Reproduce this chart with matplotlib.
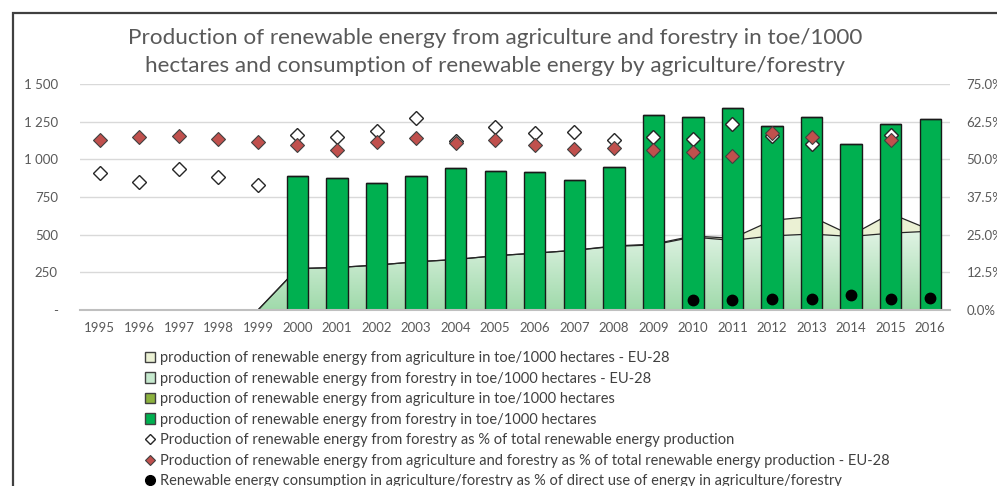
import numpy as np
import matplotlib
matplotlib.use("Agg")
import matplotlib.pyplot as plt
from matplotlib.patches import Rectangle, Patch
from matplotlib.lines import Line2D
from matplotlib.colors import LinearSegmentedColormap
from matplotlib.ticker import FuncFormatter, FixedLocator

plt.rcParams['font.family'] = ['Lato', 'DejaVu Sans']

years = [str(y) for y in range(1995, 2017)]
nan = np.nan

# toe/1000 hectares (left axis)
agri_eu28 = [0, 0, 0, 0, 0, 0, 0, 0, 0, 0, 0, 0, 0, 3, 5, 7, 14, 103, 116, 8, 130, 9]
forest_eu28 = [0, 0, 0, 0, 0, 275, 282, 298, 320, 335, 360, 377, 396, 422, 432, 484, 462, 492, 504, 488, 510, 523]
agri_bars = [nan, nan, nan, nan, nan, 0, 0, 0, 0, 0, 0, 0, 0, 0, 0, 0, 0, 0, 0, 0, 0, 0]
forest_bars = [nan, nan, nan, nan, nan, 889, 874, 841, 889, 942, 920, 914, 861, 951, 1296, 1279, 1340, 1224, 1283, 1101, 1235, 1270]

# percentages (right axis)
forest_pct = [45.6, 42.6, 46.7, 44.0, 41.5, 58.0, 57.3, 59.5, 63.6, 56.2, 60.6, 58.7, 59.1, 56.4, 57.5, 56.9, 61.6, 57.8, 55.1, nan, 58.1, nan]
agrifor_pct_eu28 = [56.4, 57.5, 57.6, 56.6, 55.9, 54.6, 53.1, 55.8, 57.2, 55.5, 56.3, 54.8, 53.5, 53.7, 53.1, 52.4, 51.0, 58.8, 57.3, nan, 56.3, nan]
consumption_pct = [nan, nan, nan, nan, nan, nan, nan, nan, nan, nan, nan, nan, nan, nan, nan, 3.3, 3.3, 3.75, 3.75, 5.0, 3.6, 3.9]

labels = [
    "production of renewable energy from agriculture in toe/1000 hectares - EU-28",
    "production of renewable energy from forestry in toe/1000 hectares - EU-28",
    "production of renewable energy from agriculture in toe/1000 hectares",
    "production of renewable energy from forestry in toe/1000 hectares",
    "Production of renewable energy from forestry as % of total renewable energy production",
    "Production of renewable energy from agriculture and forestry as % of total renewable energy production - EU-28",
    "Renewable energy consumption in agriculture/forestry as % of direct use of energy in agriculture/forestry",
]
title = ("Production of renewable energy from agriculture and forestry in toe/1000\n"
         "hectares and consumption of renewable energy by agriculture/forestry")

W, H = 997, 486
fig = plt.figure(figsize=(W / 100, H / 100), dpi=100)
fig.patch.set_facecolor('white')

ax = fig.add_axes([80 / W, 1 - 310 / H, (950 - 80) / W, (310 - 84) / H])
x = np.arange(len(years))

TXT = '#595959'
AGRI_EU = '#EBF1D4'
FOREST_EU_TOP = '#E0F3E4'
FOREST_EU_BOT = '#A0DAAB'
AGRI_BAR = '#8CB23F'
FOREST_BAR = '#00B050'
RED = '#C0504D'

# areas
fe = np.array(forest_eu28, float)
ae = np.array(agri_eu28, float)
ax.fill_between(x, fe, fe + ae, facecolor=AGRI_EU, edgecolor='none', zorder=1)
poly = ax.fill_between(x, 0, fe, facecolor='none', edgecolor='none', zorder=1)
cmap = LinearSegmentedColormap.from_list('g', [FOREST_EU_BOT, FOREST_EU_TOP])
grad = np.linspace(0, 1, 256).reshape(-1, 1)
im = ax.imshow(grad, extent=[x[0], x[-1], 0, fe.max()], origin='lower', aspect='auto',
               cmap=cmap, zorder=1.1, interpolation='bilinear')
im.set_clip_path(poly.get_paths()[0], ax.transData)
ax.plot(x, fe + ae, color='#262626', lw=0.9, zorder=1.3)
ax.plot(x, fe, color='#262626', lw=0.9, zorder=1.3)

# bars
bw = 0.54
ax.bar(x, forest_bars, width=bw, color=FOREST_BAR, edgecolor='#1a1a1a', lw=1.0, zorder=2)
ax.bar(x, agri_bars, width=bw, bottom=np.nan_to_num(forest_bars), color=AGRI_BAR,
       edgecolor='#1a1a1a', lw=1.0, zorder=2)

ax.set_xlim(-0.5, len(years) - 0.5)
ax.set_ylim(0, 1500)
ax.yaxis.set_major_locator(FixedLocator([0, 250, 500, 750, 1000, 1250, 1500]))
ax.yaxis.set_major_formatter(FuncFormatter(lambda v, p: '-' if v == 0 else f"{int(v):,}".replace(',', ' ')))
ax.set_xticks(x)
ax.set_xticklabels(years)
ax.grid(axis='y', color='#D9D9D9', lw=1.0, zorder=0)
ax.set_axisbelow(True)
for s in ['top', 'right', 'left']:
    ax.spines[s].set_visible(False)
ax.spines['bottom'].set_color('#BFBFBF')
ax.spines['bottom'].set_linewidth(1.5)
ax.tick_params(axis='both', length=0, colors=TXT, labelsize=9.5)
ax.tick_params(axis='y', pad=16)
ax.tick_params(axis='x', pad=9)

# right axis
ax2 = ax.twinx()
ax2.set_ylim(0, 75)
ax2.yaxis.set_major_locator(FixedLocator([0, 12.5, 25, 37.5, 50, 62.5, 75]))
ax2.yaxis.set_major_formatter(FuncFormatter(lambda v, p: f"{v:.1f}%"))
for s in ax2.spines.values():
    s.set_visible(False)
ax2.tick_params(axis='y', length=0, colors=TXT, labelsize=9.5, pad=12)
ax2.plot(x, forest_pct, ls='none', marker='D', ms=7, mfc='white', mec='#262626', mew=1.0, zorder=3)
ax2.plot(x, agrifor_pct_eu28, ls='none', marker='D', ms=7, mfc=RED, mec='#404040', mew=0.8, zorder=3)
ax2.plot(x, consumption_pct, ls='none', marker='o', ms=7.5, mfc='black', mec='black', zorder=3)

# title
fig.text(495 / W, 1 - 52 / H, title, ha='center', va='center', fontsize=16.2, color=TXT,
         linespacing=1.45)

# legend
handles = [
    Patch(facecolor=AGRI_EU, edgecolor='#404040', lw=1.0),
    Patch(facecolor='#C6E9CE', edgecolor='#404040', lw=1.0),
    Patch(facecolor=AGRI_BAR, edgecolor='#404040', lw=1.0),
    Patch(facecolor=FOREST_BAR, edgecolor='#404040', lw=1.0),
    Line2D([], [], ls='none', marker='D', ms=5.5, mfc='white', mec='#262626', mew=1.0),
    Line2D([], [], ls='none', marker='D', ms=5.5, mfc=RED, mec='#404040', mew=0.8),
    Line2D([], [], ls='none', marker='o', ms=7, mfc='black', mec='black'),
]
leg = fig.legend(handles, labels, loc='upper left', bbox_to_anchor=(145 / W, 1 - 351 / H),
                 frameon=False, fontsize=10.5, handlelength=0.7, handleheight=0.7,
                 handletextpad=0.3, labelspacing=0.45, borderpad=0, borderaxespad=0,
                 labelcolor='#404040')

# chart border (cropped)
fig.add_artist(Rectangle((12.5 / W, -0.5), 2, 1.5 - 13 / H, transform=fig.transFigure,
                         fill=False, edgecolor='#404040', lw=1.6))

fig.savefig('out.png', dpi=100, facecolor='white')
